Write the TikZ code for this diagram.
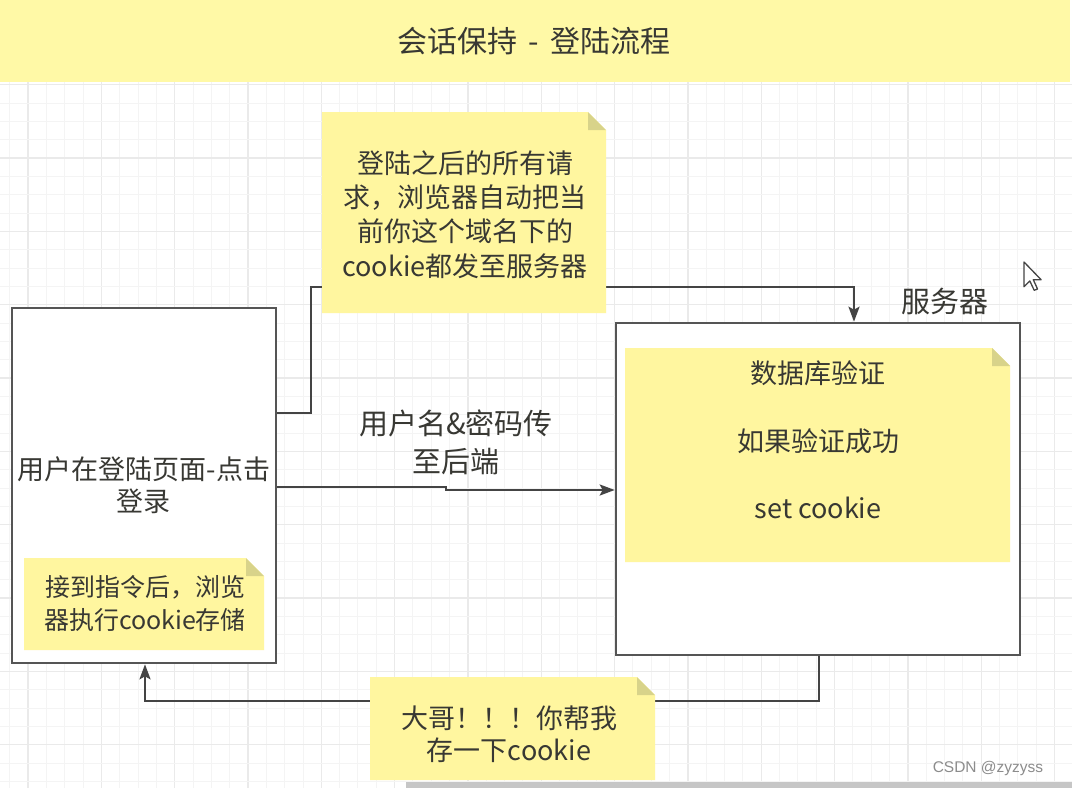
\documentclass[tikz,border=0pt]{standalone}
\usepackage{fontspec}
\setmainfont{Noto Sans CJK SC}
\newfontfamily\wmfont{Liberation Sans}
\usetikzlibrary{arrows.meta,calc}
\definecolor{banner}{HTML}{FFF9A6}
\definecolor{notey}{HTML}{FFF69F}
\definecolor{notefold}{HTML}{D8D38A}
\definecolor{linec}{HTML}{444444}
\definecolor{boxc}{HTML}{555555}
\definecolor{txt}{HTML}{383833}
\definecolor{gridm}{HTML}{F4F4F4}
\definecolor{gridM}{HTML}{EAEAEA}
\definecolor{wmc}{HTML}{8C8C8C}
\definecolor{barc}{HTML}{C6C6C6}
\tikzset{
  gridminor/.style={draw=gridm, line width=1pt},
  gridmajor/.style={draw=gridM, line width=1.3pt},
  conn/.style={draw=linec, line width=2.4pt},
  arr/.style={-{Stealth[length=15pt,width=11pt,inset=3pt]}},
  panel/.style={draw=boxc, line width=2.6pt, fill=white, inner sep=0pt},
  notebody/.style={fill=notey},
  notecorner/.style={fill=notefold},
  body/.style={font=\fontsize{27}{32}\selectfont, text=txt, align=center, inner sep=0pt},
}
% name, x1, y1, x2, y2
\newcommand\stickynote[5]{%
  \fill[notebody] (#2,#3) -- (#4-18,#3) -- (#4,#3+18) -- (#4,#5) -- (#2,#5) -- cycle;
  \fill[notecorner] (#4-18,#3) -- (#4-18,#3+18) -- (#4,#3+18) -- cycle;
  \node[inner sep=0pt, minimum width={#4-#2}, minimum height={#5-#3}] (#1) at ({(#2+#4)/2},{(#3+#5)/2}) {};
}
\begin{document}
\begin{tikzpicture}[x=1pt,y=-1pt]
\useasboundingbox (0,0) rectangle (1072,788);
\fill[white] (0,0) rectangle (1072,788);
% grid
\foreach \i in {0,...,57}{
  \pgfmathsetmacro\gx{9.67+18.333*\i}
  \pgfmathtruncatemacro\m{mod(\i,4)}
  \ifnum\m=1 \draw[gridmajor] (\gx,82) -- (\gx,788); \else \draw[gridminor] (\gx,82) -- (\gx,788); \fi
}
\foreach \j in {0,...,38}{
  \pgfmathsetmacro\gy{84.67+18.333*\j}
  \pgfmathtruncatemacro\m{mod(\j,4)}
  \ifnum\m=0 \draw[gridmajor] (0,\gy) -- (1072,\gy); \else \draw[gridminor] (0,\gy) -- (1072,\gy); \fi
}
% banner
\node[fill=banner, minimum width=1072pt, minimum height=82pt, inner sep=0pt,
      font=\fontsize{30}{36}\selectfont, text=txt] (title) at (534,41) {会话保持\hspace{5pt} - \hspace{5pt}登陆流程};

% boxes
\node[panel, body, minimum width=264pt, minimum height=355pt] (user) at (144,485.5) {用户在登陆页面-点击\\登录};
\node[panel, minimum width=404pt, minimum height=332pt] (srv) at (818,489) {};
\node[font=\fontsize{29}{34}\selectfont, text=txt, inner sep=0pt] (srvlabel) at (945,301) {服务器};

% helper coordinates
\coordinate (ya) at (0,413);
\coordinate (xb) at (854,0);
\coordinate (yc) at (0,487);
\coordinate (yd) at (0,490);
\coordinate (xe) at (819,0);
\coordinate (uf) at (145,701);

% connectors
\draw[conn,arr] (user.east |- ya) -| (311,287) -| (srv.north -| xb);
\draw[conn,arr] (user.east |- yc) -- (446,487) -- (446,490) -- (srv.west |- yd);
\draw[conn,arr] (srv.south -| xe) |- (uf) -- (user.south -| uf);
\node[body, font=\fontsize{29}{38}\selectfont] (credlabel) at (456,442) {用户名\&密码传\\至后端};

% notes
\stickynote{reqnote}{322}{112}{606}{313}
\node[body, font=\fontsize{27}{34.3}\selectfont] (reqtxt) at (465,214.5) {登陆之后的所有请\\求，浏览器自动把当\\前你这个域名下的\\cookie都发至服务器};

\stickynote{storenote}{24}{558}{264}{650}
\node[body, font=\fontsize{25}{33}\selectfont] (storetxt) at (145,603.5) {接到指令后，浏览\\器执行cookie存储};

\stickynote{dbnote}{625}{348}{1010}{562}
\node[body, font=\fontsize{27}{67.5}\selectfont] (dbtxt) at (818,440) {数据库验证\\如果验证成功\\set cookie};

\stickynote{asknote}{370}{677}{655}{780}
\node[body, font=\fontsize{27}{32}\selectfont] (asktxt) at (509,734) {大哥！！！你帮我\\存一下cookie};

% mouse pointer
\draw[fill=white, draw=linec, line width=1.3pt, line join=round]
  (1024,262) -- (1024,286.7) -- (1029.8,280.9) -- (1034.2,290.3) -- (1037.5,289) -- (1033.3,279.7) -- (1041.1,279.7) -- cycle;

% scrollbar and watermark
\fill[barc] (406,782) rectangle (1072,788);
\node[font=\wmfont\fontsize{15.5}{18}\selectfont, text=wmc, inner sep=0pt] (wm) at (988,768) {CSDN @zyzyss};
\end{tikzpicture}
\end{document}
